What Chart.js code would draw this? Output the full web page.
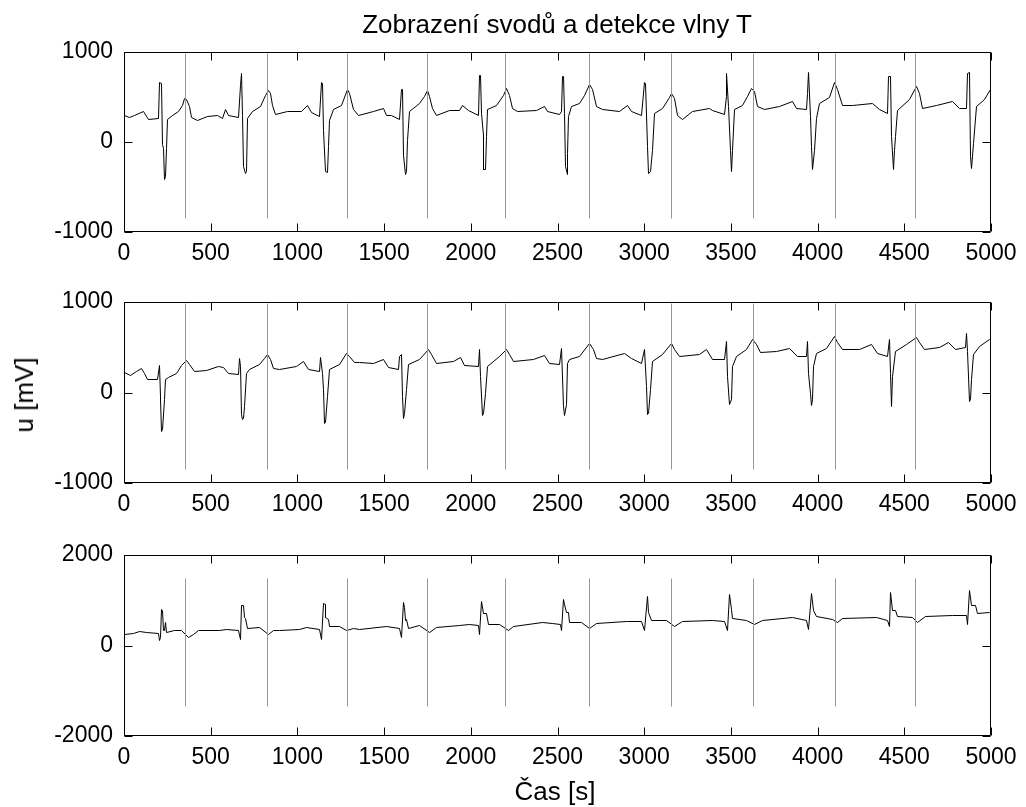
<!DOCTYPE html>
<html><head><meta charset="utf-8">
<script src="https://cdn.jsdelivr.net/npm/chart.js@4.4.1/dist/chart.umd.min.js"></script>
<style>
html,body{margin:0;padding:0;background:#fff;}
#wrap{position:relative;width:1026px;height:807px;overflow:hidden;background:#fff;}
canvas{position:absolute;left:0;top:0;}
.lbl{position:absolute;font-family:'Liberation Sans',Arial,sans-serif;font-size:26px;line-height:26px;color:#000;white-space:nowrap;}
</style></head><body>
<div id="wrap">
<canvas id="c1" width="1026" height="807"></canvas>
<canvas id="c2" width="1026" height="807"></canvas>
<canvas id="c3" width="1026" height="807"></canvas>
<div class="lbl" style="left:557px;top:11px;transform:translateX(-50%)">Zobrazení svodů a detekce vlny T</div>
<div class="lbl" style="left:555px;top:778px;transform:translateX(-50%)">Čas [s]</div>
<div class="lbl" style="left:24px;top:395px;transform:translate(-50%,-50%) rotate(-90deg)">u [mV]</div>
</div>
<script>
// ---- data ----
const xTicks = [0,500,1000,1500,2000,2500,3000,3500,4000,4500,5000];
const tWaveTimes = [352,829,1288,1749,2201,2686,3156,3629,4102,4563];
const markerRange12 = [-850, 980];
const markerRange3 = [-1350, 1480];

const lead1T = [0,30,60,112,143,200,206,217,221,229,233,240,244,252,277,315,335,348,363,378,392,421,479,537,566,585,605,663,
669,678,686,692,698,707,715,740,789,818,831,843,857,876,944,1021,1056,1079,1130,
1139,1147,1153,1162,1172,1177,1187,1206,1254,1287,1302,1322,1350,1437,1494,1514,1542,1590,
1600,1606,1614,1623,1629,1635,1648,1706,1734,1748,1763,1779,1802,1879,1936,1955,1984,2042,
2048,2055,2061,2071,2075,2084,2090,2099,2148,2186,2205,2221,2240,2272,2378,2426,2445,2512,
2522,2528,2535,2541,2545,2555,2560,2566,2580,2628,2656,2685,2701,2724,2762,2858,2906,2925,2983,
3002,3010,3018,3027,3035,3046,3060,3108,3146,3160,3175,3194,3223,3281,3377,3396,3463,
3473,3477,3484,3496,3504,3511,3523,3569,3598,3621,3636,3655,3694,3780,3857,3876,3934,
3943,3949,3957,3963,3972,3982,3991,4011,4068,4099,4116,4141,4203,4318,4356,4404,
4410,4420,4427,4437,4445,4452,4462,4529,4568,4587,4606,4683,4779,4817,4860,
4867,4875,4881,4888,4898,4914,4962,4996,5000];
const lead1U = [300,270,290,344,252,263,663,652,-33,-70,-415,-385,-70,245,289,337,411,485,474,393,274,237,282,289,263,363,289,270,
633,763,300,-274,-348,-330,263,337,400,522,570,541,411,311,344,337,411,326,281,
663,652,133,-330,-341,-52,244,356,411,585,541,356,300,337,374,300,289,252,
578,578,-145,-360,-330,22,337,430,504,570,504,374,300,348,348,404,348,300,
744,744,318,67,-311,-304,59,356,411,522,596,522,374,337,348,393,337,311,
337,733,733,318,-267,-359,-126,281,400,430,522,641,578,393,356,337,411,337,289,
663,652,-52,-348,-330,-89,318,374,496,541,485,300,252,337,374,348,311,
504,756,393,-89,-330,-89,356,411,511,596,559,393,356,393,448,374,356,
541,774,281,-52,-311,-89,263,430,496,659,578,411,411,430,356,318,
733,733,59,-304,-89,59,348,474,615,541,374,411,448,374,374,
763,774,-163,-293,-15,393,467,578,560];

const lead2T = [0,35,73,102,121,135,192,202,208,213,217,223,231,238,256,304,332,361,380,409,476,544,572,601,659,
665,672,678,684,692,697,707,726,784,813,828,845,864,899,995,1033,1062,1129,
1135,1143,1153,1158,1164,1172,1183,1245,1283,1302,1327,1360,1437,1494,1523,1581,
1590,1600,1606,1614,1619,1629,1640,1706,1754,1773,1802,1898,1940,1965,2042,
2048,2055,2067,2075,2082,2094,2167,2205,2221,2244,2359,2426,2455,2512,
2522,2532,2541,2551,2560,2570,2628,2685,2705,2724,2762,2887,2925,2983,
3002,3012,3018,3025,3035,3046,3108,3160,3175,3204,3319,3358,3392,3463,
3473,3482,3492,3502,3511,3530,3588,3627,3646,3669,3761,3838,3886,3934,
3943,3949,3957,3963,3968,3976,3991,4049,4097,4116,4141,4241,4308,4347,4404,
4414,4420,4427,4433,4452,4510,4568,4587,4616,4702,4756,4798,4852,
4860,4866,4875,4881,4888,4898,4933,4990,5000];
const lead2U = [221,184,232,268,213,147,140,294,-45,-81,-431,-413,-81,140,169,213,294,353,305,232,243,287,280,206,195,
379,287,-247,-302,-284,-155,213,250,305,379,423,361,268,250,287,342,257,232,
386,213,29,-339,-332,-45,250,305,434,397,331,331,324,368,280,257,
397,416,-45,-284,-229,29,305,361,471,416,316,342,390,294,287,
471,176,-258,-229,-8,287,397,478,416,342,361,405,316,305,
489,-155,-258,-137,324,361,397,537,471,379,361,434,379,316,
471,66,-247,-229,29,342,416,537,471,397,416,471,368,361,
563,176,-137,-81,287,397,478,589,526,442,453,489,397,397,
563,213,-8,-148,-81,287,434,489,618,552,471,478,526,434,397,
582,213,-155,176,453,526,611,552,471,500,556,471,500,
655,453,-100,-81,140,416,508,582,574];

const lead3T = [0,54,92,131,198,204,211,217,223,227,234,240,246,294,332,371,400,428,553,592,659,
669,678,688,693,703,713,784,832,861,899,1014,1053,1130,
1139,1153,1160,1164,1178,1187,1245,1283,1322,1360,1514,1590,
1600,1610,1615,1621,1629,1640,1706,1763,1802,1936,1994,2042,
2048,2061,2071,2090,2100,2167,2215,2244,2416,2474,2515,
2522,2535,2543,2551,2562,2570,2637,2685,2724,2897,2983,
3002,3018,3027,3041,3127,3175,3223,3396,3463,
3482,3492,3502,3511,3588,3636,3684,3857,3934,
3949,3963,3976,3991,4087,4116,4145,4337,4404,4414,
4420,4433,4449,4462,4548,4577,4625,4779,4856,4865,
4875,4888,4913,4923,4990,5000];
const lead3U = [247,262,306,277,262,100,174,800,778,321,336,505,284,321,321,174,247,336,336,358,336,
137,873,873,616,601,380,395,233,321,336,358,395,358,
137,932,910,616,579,409,409,321,380,358,409,380,
174,947,837,542,579,380,431,284,395,431,468,431,
247,969,704,704,468,468,336,409,505,483,468,
321,1021,910,726,726,505,505,380,483,527,520,
321,1072,726,542,542,409,527,557,527,
336,1131,800,601,557,468,557,616,557,
358,1153,763,630,579,505,601,616,542,409,
1168,763,763,630,616,505,630,652,674,468,
1205,873,873,704,726,726];

// ---- drawing ----
const FONT = "'Liberation Sans', Arial, Helvetica, sans-serif";

function pairs(ts, us){ const n=Math.min(ts.length,us.length); const out=[]; for(let i=0;i<n;i++) out.push({x:ts[i],y:us[i]}); return out; }
function markers(times, range){ const out=[]; times.forEach(t=>{ out.push({x:t,y:range[0]}); out.push({x:t,y:range[1]}); out.push({x:t,y:null}); }); return out; }

// snap line vertices to pixel centres (crisp, MATLAB-like rendering)
const snapPlugin = {
  id:'snapPixels',
  beforeDatasetsDraw(chart){
    chart.data.datasets.forEach((ds,i)=>{
      const meta = chart.getDatasetMeta(i);
      meta.data.forEach(p=>{
        if (p.skip || !isFinite(p.x) || !isFinite(p.y)) return;
        p.x = Math.round(p.x - 0.5) + 0.5;
        p.y = Math.round(p.y - 0.5) + 0.5;
      });
    });
  }
};

const boxPlugin = {
  id:'matlabBox',
  afterDatasetsDraw(chart){
    const {ctx, chartArea:a, scales} = chart;
    const L=Math.round(a.left)+0.5, R=Math.round(a.right)-0.5, T=Math.round(a.top)+0.5, B=Math.round(a.bottom)-0.5;
    const len=8;
    ctx.save();
    ctx.strokeStyle='#000'; ctx.lineWidth=1;
    ctx.beginPath();
    ctx.rect(L,T,R-L,B-T);
    scales.x.ticks.forEach(t=>{ const px=Math.round(scales.x.getPixelForValue(t.value))+0.5; ctx.moveTo(px,B); ctx.lineTo(px,B-len); ctx.moveTo(px,T); ctx.lineTo(px,T+len); });
    scales.y.ticks.forEach(t=>{ const py=Math.round(scales.y.getPixelForValue(t.value))+0.5; ctx.moveTo(L,py); ctx.lineTo(L+len,py); ctx.moveTo(R,py); ctx.lineTo(R-len,py); });
    ctx.stroke();
    ctx.restore();
  }
};

function makeChart(id, ts, us, yMin, yMax, yStep, range, top, bottom){
  new Chart(document.getElementById(id), {
    type:'line',
    data:{datasets:[
      {data:markers(tWaveTimes, range), borderColor:'#00ff00', borderWidth:1, pointRadius:0, spanGaps:false, tension:0, order:0},
      {data:pairs(ts,us), borderColor:'#000', borderWidth:1, pointRadius:0, tension:0, order:1}
    ]},
    options:{
      responsive:false, animation:false, devicePixelRatio:1, events:[],
      layout:{padding:{left:24,right:35,top:top,bottom:807-bottom-40}},
      plugins:{legend:{display:false}, tooltip:{enabled:false}, title:{display:false}},
      scales:{
        x:{type:'linear', min:0, max:5000,
           afterBuildTicks(s){ s.ticks = xTicks.map(v=>({value:v})); },
           grid:{display:false, drawTicks:false}, border:{display:false},
           ticks:{padding:8, color:'#000', font:{family:FONT,size:23}, maxRotation:0, autoSkip:false, callback:v=>String(v)},
           afterFit(s){ s.height=40; }},
        y:{type:'linear', min:yMin, max:yMax,
           grid:{display:false, drawTicks:false}, border:{display:false},
           ticks:{stepSize:yStep, padding:11, color:'#000', font:{family:FONT,size:23}, callback:v=>String(v)},
           afterFit(s){ s.width=100; }}
      }
    },
    plugins:[snapPlugin, boxPlugin]
  });
}

makeChart('c1', lead1T, lead1U, -1000, 1000, 1000, markerRange12, 52, 232);
makeChart('c2', lead2T, lead2U, -1000, 1000, 1000, markerRange12, 302, 483);
makeChart('c3', lead3T, lead3U, -2000, 2000, 2000, markerRange3, 555, 736);
</script>
</body></html>
